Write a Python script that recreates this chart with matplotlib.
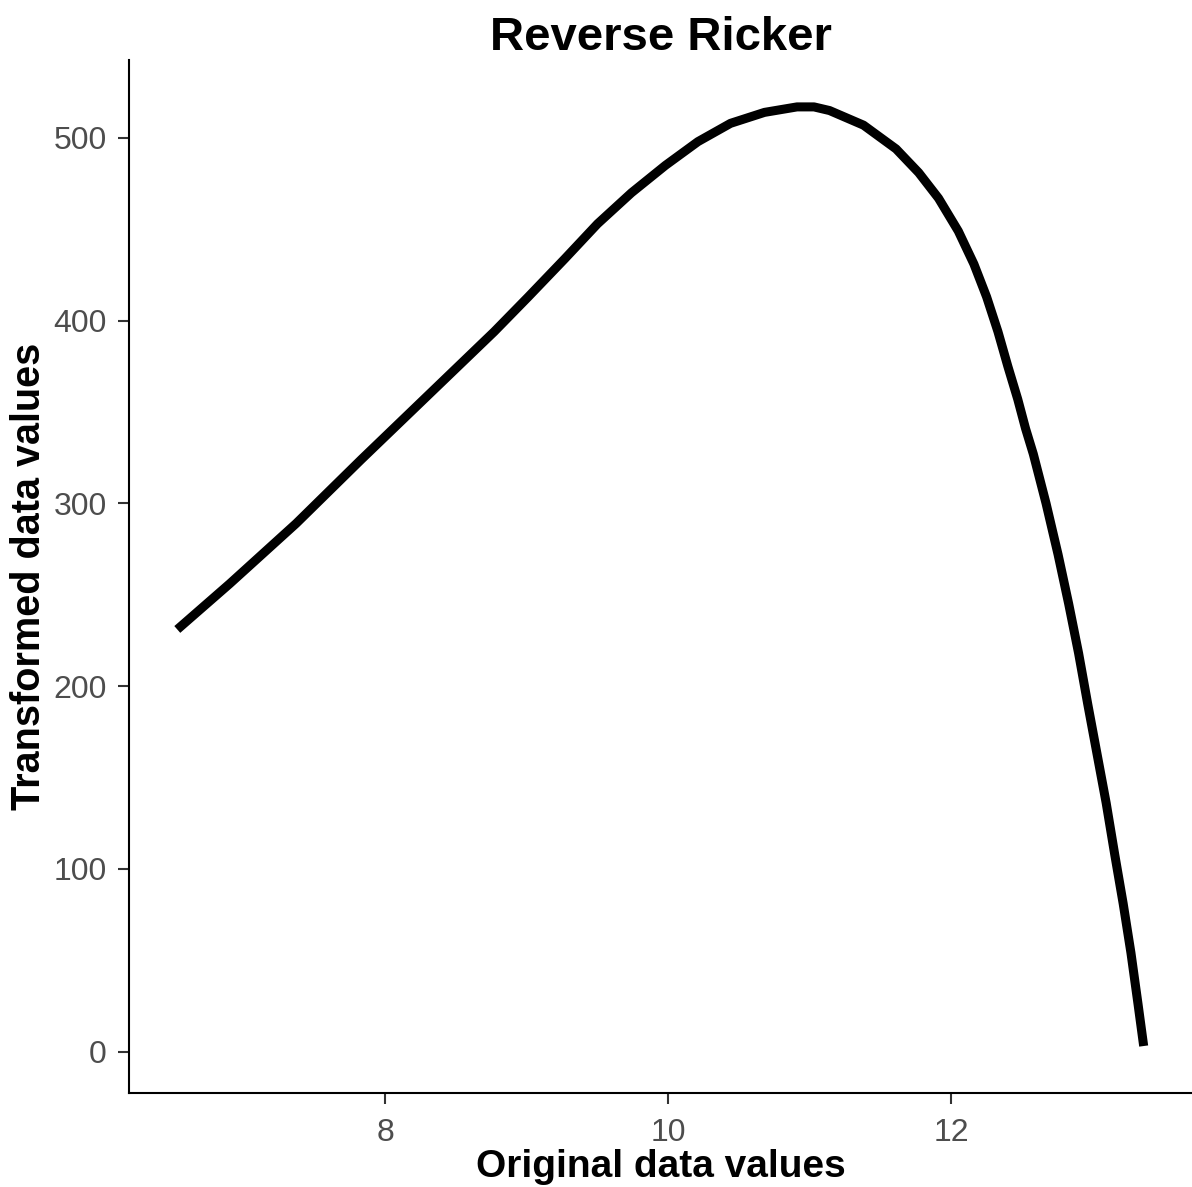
import numpy as np
import matplotlib.pyplot as plt

# Values
original = [6.53, 6.90, 7.37, 7.83, 8.30, 8.77, 9.01, 9.27, 9.50, 9.74,
            9.98, 10.21, 10.44, 10.68, 10.91, 11.03, 11.14, 11.38, 11.61,
            11.77, 11.91, 12.05, 12.16, 12.25, 12.33, 12.40, 12.47, 12.525,
            12.58, 12.67, 12.755, 12.83, 12.90, 12.965, 13.03, 13.095, 13.155,
            13.215, 13.27, 13.32, 13.36]
transformed = [231, 256, 289, 324, 359, 394, 413, 434, 453, 470,
               485, 498, 508, 514, 517, 517, 515, 507, 494,
               481, 467, 449, 431, 413, 394, 375, 357, 341,
               327, 300, 272, 245, 218, 190, 163, 136, 108,
               81, 54, 26, 3]

x_ticks = [8, 10, 12]
y_ticks = [0, 100, 200, 300, 400, 500]

plt.rcParams['font.family'] = ['Liberation Sans', 'DejaVu Sans']

fig = plt.figure(figsize=(11.92, 11.87), dpi=100)
ax = fig.add_axes([0.1082, 0.0792, 0.8918, 0.8703])

ax.plot(original, transformed, color='black', linewidth=6.5,
        solid_capstyle='butt', solid_joinstyle='round')

# ggplot style 5% expansion
xr = max(original) - min(original)
yr = max(transformed) - min(transformed)
ax.set_xlim(min(original) - 0.05 * xr, max(original) + 0.05 * xr)
ax.set_ylim(min(transformed) - 0.05 * yr, max(transformed) + 0.05 * yr)

ax.set_xticks(x_ticks)
ax.set_yticks(y_ticks)
ax.tick_params(axis='both', length=8, width=1.5, color='#333333',
               labelsize=23, labelcolor='#4D4D4D')
ax.tick_params(axis='x', pad=10)
ax.tick_params(axis='y', pad=8)

for side in ['top', 'right']:
    ax.spines[side].set_visible(False)
for side in ['left', 'bottom']:
    ax.spines[side].set_linewidth(1.5)
    ax.spines[side].set_color('black')

ax.set_title('Reverse Ricker', fontsize=34, fontweight='bold', pad=6)
ax.set_xlabel('Original data values', fontsize=28, fontweight='bold', labelpad=0.5)
ax.set_ylabel('Transformed data values', fontsize=28.5, fontweight='bold', labelpad=4)

fig.savefig('out.png', dpi=100)
